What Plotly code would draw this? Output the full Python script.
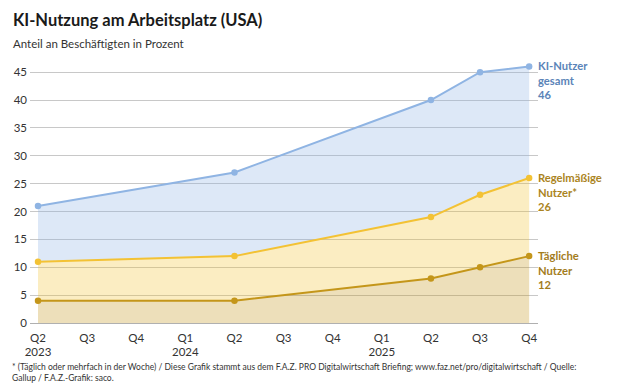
import plotly.graph_objects as go

quarters = ["Q2<br>2023", "Q3", "Q4", "Q1<br>2024", "Q2", "Q3", "Q4", "Q1<br>2025", "Q2", "Q3", "Q4"]
x_idx = [0, 4, 8, 9, 10]
total = [21, 27, 40, 45, 46]
regular = [11, 12, 19, 23, 26]
daily = [4, 4, 8, 10, 12]
y_ticks = [0, 5, 10, 15, 20, 25, 30, 35, 40, 45]

C_TOTAL = "#8fb4e3"
C_REG = "#f3c234"
C_DAILY = "#c4961a"
FONT = "Lato"

fig = go.Figure()
fig.add_trace(go.Scatter(x=x_idx, y=daily, mode="lines+markers", fill="tozeroy",
                         line=dict(color=C_DAILY, width=2), marker=dict(size=6.5, color=C_DAILY),
                         fillcolor="rgba(196,150,26,0.3)", hoverinfo="skip"))
fig.add_trace(go.Scatter(x=x_idx, y=regular, mode="lines+markers", fill="tonexty",
                         line=dict(color=C_REG, width=2), marker=dict(size=6.5, color=C_REG),
                         fillcolor="rgba(243,194,52,0.3)", hoverinfo="skip"))
fig.add_trace(go.Scatter(x=x_idx, y=total, mode="lines+markers", fill="tonexty",
                         line=dict(color=C_TOTAL, width=2), marker=dict(size=6.5, color=C_TOTAL),
                         fillcolor="rgba(143,180,227,0.3)", hoverinfo="skip"))

labels = [
    ("KI-Nutzer<br>gesamt<br>%d" % total[-1], total[-1], "#5b84b8"),
    ("Regelmäßige<br>Nutzer*<br>%d" % regular[-1], regular[-1], "#ab8422"),
    ("Tägliche<br>Nutzer<br>%d" % daily[-1], daily[-1], "#a37c1c"),
]
for txt, val, col in labels:
    fig.add_annotation(x=10, y=val, xref="x", yref="y", text=txt, showarrow=False,
                       xanchor="left", yanchor="top", align="left", xshift=7, yshift=9.5,
                       font=dict(family=FONT, size=11.2, color=col, weight="bold"))

# title and subtitle (positioned relative to the plot area)
fig.add_annotation(x=0, y=1, xref="paper", yref="paper", xanchor="left", yanchor="middle",
                   xshift=-19, yshift=41, text="<b>KI-Nutzung am Arbeitsplatz (USA)</b>",
                   showarrow=False, font=dict(family=FONT, size=16.5, color="#1a1a1a"))
fig.add_annotation(x=0, y=1, xref="paper", yref="paper", xanchor="left", yanchor="middle",
                   xshift=-19, yshift=18, text="Anteil an Beschäftigten in Prozent",
                   showarrow=False, font=dict(family=FONT, size=11.5, color="#333333"))
fig.add_annotation(x=0, y=0, xref="paper", yref="paper", xanchor="left", yanchor="top",
                   xshift=-20, yshift=-37,
                   text="* (Täglich oder mehrfach in der Woche) / Diese Grafik stammt aus dem F.A.Z. PRO Digitalwirtschaft Briefing; www.faz.net/pro/digitalwirtschaft / Quelle:<br>Gallup / F.A.Z.-Grafik: saco.",
                   showarrow=False, align="left",
                   font=dict(family=FONT, size=8.5, color="#333333"))

# page has an 8px body margin, so the figure is sized to fill the rest of the 617x392 window
fig.update_layout(
    width=609, height=384, margin=dict(l=22, r=79, t=53, b=69, autoexpand=False),
    paper_bgcolor="white", plot_bgcolor="white", showlegend=False,
    font=dict(family=FONT, size=11, color="#333333"),
    xaxis=dict(range=[-0.163, 10.18], tickvals=list(range(11)), ticktext=quarters,
               showgrid=False, zeroline=False, showline=False, ticks="", automargin=False,
               ticklabelstandoff=6,
               tickfont=dict(family=FONT, size=11.5, color="#333333")),
    yaxis=dict(range=[0, 47], tickvals=y_ticks, showgrid=True, gridcolor="#c8c8c8",
               gridwidth=1, zeroline=True, zerolinecolor="#b0b0b0", zerolinewidth=1,
               ticks="", automargin=False, ticklabelstandoff=2,
               tickfont=dict(family=FONT, size=11.5, color="#333333")),
)
fig.write_html("out.html")
